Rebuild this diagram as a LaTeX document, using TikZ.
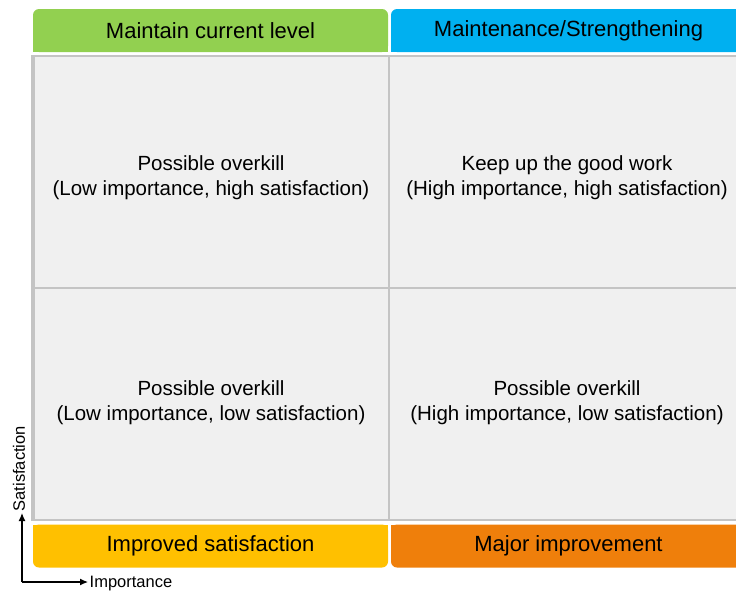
\documentclass[tikz,border=0pt]{standalone}
\usepackage{fontspec}
\setmainfont{Liberation Sans}
\usetikzlibrary{arrows.meta}
\definecolor{hdrgreen}{HTML}{92D050}
\definecolor{hdrblue}{HTML}{00B0F0}
\definecolor{ftryellow}{HTML}{FFC000}
\definecolor{ftrorange}{HTML}{EF7F0B}
\definecolor{cellgray}{HTML}{F0F0F0}
\definecolor{rulegray}{HTML}{C4C4C4}
\tikzset{
  bar/.style={rectangle, rounded corners=6pt, inner sep=0pt, minimum width=355pt, minimum height=43pt, font=\fontsize{22}{26}\selectfont},
  cell/.style={rectangle, draw=rulegray, line width=2pt, fill=cellgray, inner sep=0pt, minimum width=355pt, minimum height=232pt},
  celltext/.style={align=center, inner sep=0pt, font=\fontsize{20.5}{25}\selectfont},
  axislabel/.style={inner sep=1.5pt, font=\fontsize{16.5}{19}\selectfont},
  axisarrow/.style={-{Latex[length=8pt, width=7pt]}, line width=1.2pt}
}
\begin{document}
\begin{tikzpicture}[x=1pt, y=-1pt]
        \useasboundingbox (0,0) rectangle (736,592);
        \clip (0,0) rectangle (736,592);

        % square off the inner corners of the bars
        \fill[hdrgreen] (33,30) rectangle (388,52);
        \fill[hdrblue] (391,30) rectangle (746,52);
        \fill[ftryellow] (33,525) rectangle (388,546);
        \fill[ftrorange] (391,525) rectangle (746,546);

        \node[bar, fill=hdrgreen] (maintain) at (210.5, 30.5) {\raisebox{-2pt}{Maintain current level}};
        \node[bar, fill=hdrblue] (strengthen) at (568.5, 30.5) {\raisebox{-2pt}{Maintenance/Strengthening}};
        \node[bar, fill=ftryellow] (improved) at (210.5, 546) {\raisebox{-2pt}{Improved satisfaction}};
        \node[bar, fill=ftrorange] (major) at (568.5, 546) {\raisebox{-2pt}{Major improvement}};

        \node[cell] (lowhigh) at (211, 172) {};
        \node[cell] (highhigh) at (566, 172) {};
        \node[cell] (lowlow) at (211, 404) {};
        \node[cell] (highlow) at (566, 404) {};

        \draw[rulegray, line width=3pt] (lowhigh.north west) -- (lowlow.south west);

        \node[celltext] (lowhightxt) at (211, 178) {Possible overkill\\(Low importance, high satisfaction)};
        \node[celltext] (highhightxt) at (567, 178) {Keep up the good work\\(High importance, high satisfaction)};
        \node[celltext] (lowlowtxt) at (211, 403) {Possible overkill\\(Low importance, low satisfaction)};
        \node[celltext] (highlowtxt) at (567, 403) {Possible overkill\\(High importance, low satisfaction)};

        \coordinate (origin) at (22, 582);
        \node[axislabel, rotate=90, anchor=west] (satis) at (19, 513) {Satisfaction};
        \node[axislabel, anchor=west] (imp) at (88, 584) {Importance};

        \draw[axisarrow] (origin) -- (origin |- satis.west);
        \draw[axisarrow] (origin) -- (origin -| imp.west);
    \end{tikzpicture}
\end{document}
